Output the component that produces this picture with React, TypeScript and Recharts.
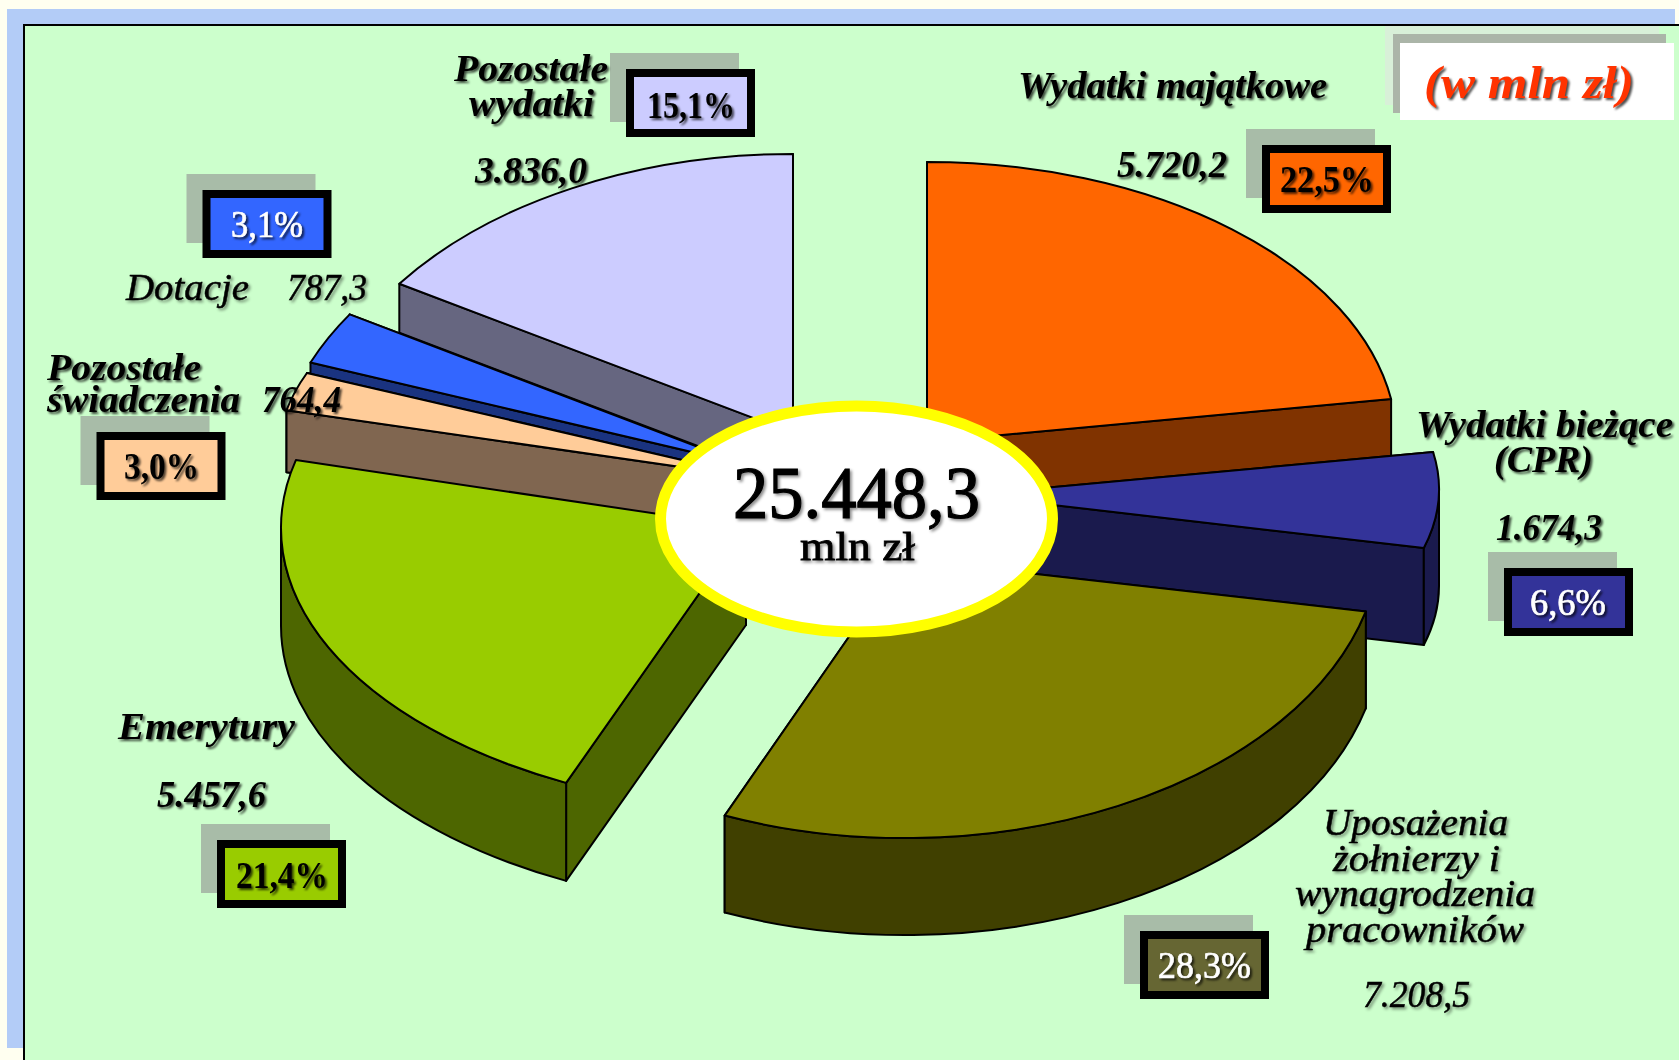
import { PieChart, Pie } from "recharts";

// values in mln zł, clockwise from 12 o'clock
const sliceNames = [
  "Wydatki majątkowe",
  "Wydatki bieżące (CPR)",
  "Uposażenia żołnierzy i wynagrodzenia pracowników",
  "Emerytury",
  "Pozostałe świadczenia",
  "Dotacje",
  "Pozostałe wydatki",
];
const sliceValues = [5720.2, 1674.3, 7208.5, 5457.6, 764.4, 787.3, 3836.0];
const valueLabels = ["5.720,2", "1.674,3", "7.208,5", "5.457,6", "764,4", "787,3", "3.836,0"];
const percentLabels = ["22,5%", "6,6%", "28,3%", "21,4%", "3,0%", "3,1%", "15,1%"];
const totalLabel = "25.448,3";

const topColors = ["#FF6600", "#333399", "#808000", "#99CC00", "#FFCC99", "#3366FF", "#CCCCFF"];
const sideColors = ["#803300", "#1A1A4D", "#404000", "#4D6600", "#806650", "#1A3380", "#666680"];
const boxColors = ["#FF6600", "#333399", "#666633", "#99CC00", "#FFCC99", "#3366FF", "#CCCCFF"];
const boxTextColors = ["#000", "#fff", "#fff", "#000", "#000", "#fff", "#000"];

const pieData = sliceNames.map((name, i) => ({ name, value: sliceValues[i] }));

// the picture is a perspective 3D pie, so every slice gets its own ellipse, apex and depth
const sliceShapes = [
  { ex: 927, ey: 443.5, rx: 470, ry: 281.5, ax: 927, ay: 442, depth: 75, endTurn: 0 },
  { ex: 969, ey: 489, rx: 470, ry: 234, ax: 967, ay: 495, depth: 97, endTurn: 0 },
  { ex: 904.6, ey: 535, rx: 476.6, ry: 303, ax: 903, ay: 559, depth: 97, endTurn: 4.4 },
  { ex: 797, ey: 528, rx: 516, ry: 285, ax: 746, ay: 527, depth: 98, endTurn: 0 },
  { ex: 607, ey: 460, rx: 330, ry: 209, ax: 764, ay: 479, depth: 62, endTurn: 0 },
  { ex: 676, ey: 482, rx: 402, ry: 287, ax: 743, ay: 464, depth: 40, endTurn: 0 },
  { ex: 793, ey: 466, rx: 485, ry: 312, ax: 793, ay: 433, depth: 49, endTurn: 0 },
];

// outer box rect, text x1, x2, baseline
const percentBoxes = [
  { x: 1262, y: 145, tx1: 1280, tx2: 1374, by: 192 },
  { x: 1504, y: 568, tx1: 1530, tx2: 1606, by: 615 },
  { x: 1140, y: 931, tx1: 1158, tx2: 1251, by: 978 },
  { x: 217, y: 840, tx1: 236, tx2: 328, by: 888 },
  { x: 96.5, y: 432, tx1: 124, tx2: 199, by: 479 },
  { x: 202.5, y: 190, tx1: 231, tx2: 303, by: 237 },
  { x: 626, y: 69, tx1: 647, tx2: 735, by: 117.5 },
];

const boldLabels: [string, number, number, number][] = [
  ["Pozostałe", 454, 608, 81],
  ["wydatki", 469, 594, 116],
  [valueLabels[6], 475, 587, 183],
  ["Pozostałe", 47, 201, 380],
  ["świadczenia", 47, 240, 412],
  [valueLabels[4], 262, 341, 412],
  ["Wydatki majątkowe", 1018, 1327, 98],
  [valueLabels[0], 1117, 1227, 177],
  ["Wydatki bieżące", 1416, 1673, 437],
  ["(CPR)", 1494, 1593, 472],
  [valueLabels[1], 1496, 1602, 540],
  ["Emerytury", 118, 295, 739],
  [valueLabels[3], 157, 266, 807],
];
const plainLabels: [string, number, number, number][] = [
  ["Dotacje", 126, 249, 300],
  [valueLabels[5], 287, 367, 300],
  ["Uposażenia", 1323, 1508, 835],
  ["żołnierzy i", 1333, 1500, 871],
  ["wynagrodzenia", 1295, 1535, 906],
  ["pracowników", 1306, 1524, 942],
  [valueLabels[2], 1363, 1470, 1007],
];

const SERIF = '"Liberation Serif", serif';
const softShadow = "drop-shadow(2px 2px 1.5px rgba(0,0,0,0.45))";
const hardShadow = "drop-shadow(2px 2px 1px rgba(0,0,0,0.7))";

function edgePoint(i: number, angle: number) {
  const s = sliceShapes[i];
  const rad = (angle * Math.PI) / 180;
  return { x: s.ex + s.rx * Math.cos(rad), y: s.ey - s.ry * Math.sin(rad) };
}

function SliceTop(props: any) {
  const i = sliceNames.indexOf(props.name);
  const s = sliceShapes[i];
  const a = edgePoint(i, props.startAngle);
  const b = edgePoint(i, props.endAngle + s.endTurn);
  return (
    <path
      d={`M${s.ax},${s.ay} L${a.x},${a.y} A${s.rx},${s.ry} 0 0 1 ${b.x},${b.y} Z`}
      fill={topColors[i]}
      stroke="#000"
      strokeWidth={2}
      strokeLinejoin="round"
    />
  );
}

function SliceSide(props: any) {
  const i = sliceNames.indexOf(props.name);
  const s = sliceShapes[i];
  const d = s.depth;
  const endAngle = props.endAngle + s.endTurn;
  const a = edgePoint(i, props.startAngle);
  const b = edgePoint(i, endAngle);
  const wall = (p: { x: number; y: number }) =>
    `M${s.ax},${s.ay} L${p.x},${p.y} L${p.x},${p.y + d} L${s.ax},${s.ay + d} Z`;
  // the lower of the two cut faces is the one we see, so it goes last
  const walls = a.y > b.y ? [b, a] : [a, b];
  const style = { fill: sideColors[i], stroke: "#000", strokeWidth: 2, strokeLinejoin: "round" as const };
  // only the front half of the rim faces the viewer
  const hi = Math.min(props.startAngle, 0);
  const lo = Math.max(endAngle, -180);
  const p = edgePoint(i, hi);
  const q = edgePoint(i, lo);
  return (
    <g>
      <path d={wall(walls[0])} {...style} />
      <path d={wall(walls[1])} {...style} />
      {hi > lo && (
        <path
          d={`M${p.x},${p.y} A${s.rx},${s.ry} 0 0 1 ${q.x},${q.y} L${q.x},${q.y + d} A${s.rx},${s.ry} 0 0 0 ${p.x},${p.y + d} Z`}
          {...style}
        />
      )}
    </g>
  );
}

// peach side has to sit over the thin dark blue side of its neighbour
function PeachSide(props: any) {
  return props.name === sliceNames[4] ? <SliceSide {...props} /> : <g />;
}

function FitText({ text, x1, x2, y, size, bold, fill = "#000", filter, heavy = 0 }: any) {
  return (
    <text
      x={x1}
      y={y}
      textLength={x2 - x1}
      lengthAdjust="spacingAndGlyphs"
      fontFamily={SERIF}
      fontSize={size}
      fontStyle="italic"
      fontWeight={bold ? 700 : 400}
      fill={fill}
      stroke={heavy ? fill : "none"}
      strokeWidth={heavy}
      style={{ filter }}
    >
      {text}
    </text>
  );
}

function Overlay() {
  return (
    <svg width={1679} height={1060} style={{ position: "absolute", left: 0, top: 0 }}>
      {/* unit note */}
      <rect x={1385} y={26} width={274} height={79} fill="#D8F0D8" />
      <rect x={1393} y={34} width={273} height={79} fill="#ABB5A8" />
      <rect x={1400} y={43} width={274} height={77} fill="#fff" />
      <FitText text="(w mln zł)" x1={1424} x2={1634} y={98} size={47} bold fill="#FF3300" filter={hardShadow} />

      {/* percent boxes */}
      {percentBoxes.map((b, i) => (
        <g key={i}>
          <rect x={b.x - 16} y={b.y - 16} width={129} height={69} fill="#A8BCA8" />
          <rect x={b.x + 4} y={b.y + 4} width={121} height={60} fill={boxColors[i]} stroke="#000" strokeWidth={8} />
          <text
            x={b.tx1}
            y={b.by}
            textLength={b.tx2 - b.tx1}
            lengthAdjust="spacingAndGlyphs"
            fontFamily={SERIF}
            fontSize={38}
            fontWeight={boxTextColors[i] === "#000" ? 700 : 400}
            fill={boxTextColors[i]}
            stroke={boxTextColors[i] === "#000" ? "none" : "#fff"}
            strokeWidth={0.7}
            style={{ filter: hardShadow }}
          >
            {percentLabels[i]}
          </text>
        </g>
      ))}

      {boldLabels.map(([t, x1, x2, y], i) => (
        <FitText key={i} text={t} x1={x1} x2={x2} y={y} size={38} bold filter={hardShadow} />
      ))}
      {plainLabels.map(([t, x1, x2, y], i) => (
        <FitText key={i} text={t} x1={x1} x2={x2} y={y} size={38} heavy={0.5} filter={softShadow} />
      ))}

      {/* total in the middle */}
      <ellipse cx={856.5} cy={519} rx={196} ry={113} fill="#fff" stroke="#FFFF00" strokeWidth={11} />
      <text
        x={733}
        y={518}
        textLength={247}
        lengthAdjust="spacingAndGlyphs"
        fontFamily={SERIF}
        fontSize={74}
        fill="#000"
        stroke="#000"
        strokeWidth={1.2}
        style={{ filter: softShadow }}
      >
        {totalLabel}
      </text>
      <text
        x={800}
        y={560}
        textLength={115}
        lengthAdjust="spacingAndGlyphs"
        fontFamily={SERIF}
        fontSize={40}
        fill="#000"
        stroke="#000"
        strokeWidth={0.8}
        style={{ filter: softShadow }}
      >
        mln zł
      </text>
    </svg>
  );
}

export default function App() {
  const pieProps = {
    data: pieData,
    dataKey: "value",
    nameKey: "name",
    cx: 857,
    cy: 519,
    outerRadius: 300,
    startAngle: 90,
    endAngle: -270,
    stroke: "none",
    labelLine: false,
    isAnimationActive: false,
  };
  return (
    <div style={{ position: "absolute", left: 0, top: 0, width: 1679, height: 1060, background: "#FFFFF0", overflow: "hidden" }}>
      <div style={{ position: "absolute", left: 7, top: 9, width: 1668, height: 1039, background: "#B3CCF7" }} />
      <div
        style={{
          position: "absolute",
          left: 23,
          top: 24,
          width: 1656,
          height: 1036,
          background: "#CCFFCC",
          borderLeft: "2px solid #000",
          borderTop: "2px solid #000",
          boxSizing: "border-box",
        }}
      />
      <div style={{ position: "absolute", left: 0, top: 0 }}>
        <PieChart width={1679} height={1060} margin={{ top: 0, right: 0, bottom: 0, left: 0 }}>
          <Pie {...pieProps} shape={SliceSide} isAnimationActive={false} />
          <Pie {...pieProps} shape={PeachSide} isAnimationActive={false} />
          <Pie {...pieProps} shape={SliceTop} isAnimationActive={false} />
        </PieChart>
      </div>
      <Overlay />
    </div>
  );
}
